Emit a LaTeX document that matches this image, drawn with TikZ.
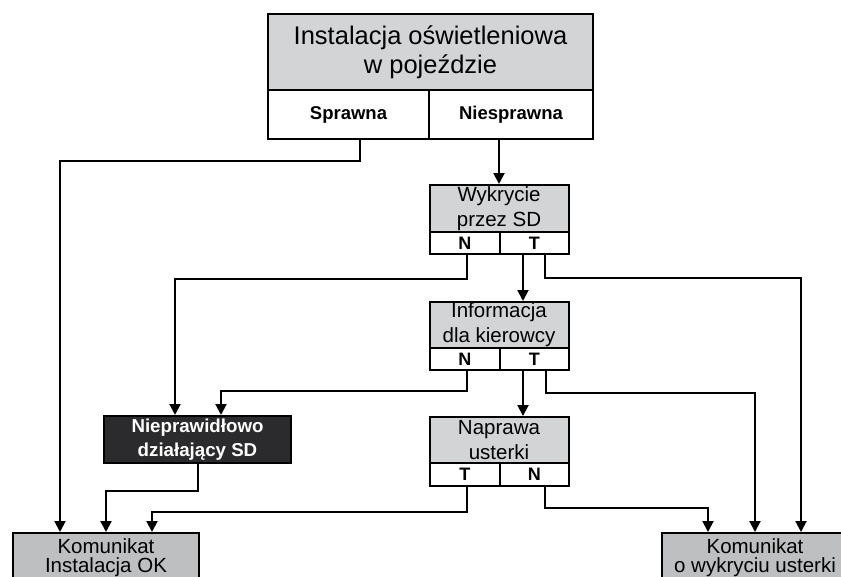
\documentclass[tikz,border=0pt]{standalone}
\usepackage{fontspec}
\setmainfont{Liberation Sans}
\usetikzlibrary{arrows.meta,calc}
\definecolor{boxgray}{HTML}{D3D4D6}
\definecolor{msggray}{HTML}{BEBFC1}
\definecolor{darkbox}{HTML}{2B2B2E}
\begin{document}
\begin{tikzpicture}[x=1pt,y=-1pt,
  base/.style={draw=black, line width=2pt, inner sep=0pt, align=center},
  gbox/.style={base, fill=boxgray, font=\fontsize{20.5}{25}\selectfont},
  cell/.style={base, fill=white, minimum height=22pt, font=\bfseries\fontsize{18}{19}\selectfont},
  msg/.style={base, fill=msggray, minimum width=186pt, minimum height=50pt, anchor=north, font=\fontsize{20.5}{19}\selectfont},
  arr/.style={draw=black, line width=2pt, -{Triangle[length=11pt,width=11pt]}},
  link/.style={draw=black, line width=2pt}]
\useasboundingbox (0,0) rectangle (841,576);
\clip (0,0) rectangle (841,576);
% top box
\node[gbox, minimum width=325pt, minimum height=76pt, font=\fontsize{25.5}{29}\selectfont] (top) at (430.5,52) {Instalacja oświetleniowa\\w pojeździe};
\node[base, fill=white, minimum width=161pt, minimum height=49pt, font=\bfseries\fontsize{18.5}{20}\selectfont] (spr) at (348.5,114.5) {Sprawna};
\node[base, fill=white, minimum width=164pt, minimum height=49pt, font=\bfseries\fontsize{18.5}{20}\selectfont] (nsp) at (511,114.5) {Niesprawna};
% Wykrycie
\node[gbox, minimum width=139pt, minimum height=47pt] (wyk) at (499,208.5) {Wykrycie\\przez SD};
\node[cell, minimum width=70.5pt] (wykN) at (464.75,243) {N};
\node[cell, minimum width=68.5pt] (wykT) at (534.25,243) {T};
% Informacja
\node[gbox, minimum width=139pt, minimum height=46pt] (inf) at (499,325) {Informacja\\dla kierowcy};
\node[cell, minimum width=70.5pt] (infN) at (464.75,359) {N};
\node[cell, minimum width=68.5pt] (infT) at (534.25,359) {T};
% Naprawa
\node[gbox, minimum width=139pt, minimum height=46pt] (nap) at (499,440) {Naprawa\\usterki};
\node[cell, minimum width=70.5pt, minimum height=23pt] (napT) at (464.75,474.5) {T};
\node[cell, minimum width=68.5pt, minimum height=23pt] (napN) at (534.25,474.5) {N};
% faulty SD
\node[base, fill=darkbox, text=white, minimum width=187pt, minimum height=47pt, font=\bfseries\fontsize{18.7}{24}\selectfont] (bad) at (197.5,439.5) {Nieprawidłowo\\działający SD};
% messages
\node[msg] (ok) at (106,532) {Komunikat\\Instalacja OK};
\node[msg] (err) at (755,532) {Komunikat\\o wykryciu usterki};
% connectors
\draw[arr] ($(spr.south)+(11.5,0)$) -- ++(0,21) -| ($(ok.north)+(-46,0)$);
\draw[arr] ($(nsp.south)+(-12,0)$) -- (wyk.north);
\draw[arr] ($(wykN.south)+(2.25,0)$) -- ++(0,24) -| ($(bad.north)+(-22.5,0)$);
\draw[arr] ($(wykT.south)+(-11.25,0)$) -- ($(inf.north)+(24,0)$);
\draw[arr] ($(wykT.south)+(10.75,0)$) -- ++(0,23) -| ($(err.north)+(46,0)$);
\draw[arr] ($(infN.south)+(2.25,0)$) -- ++(0,20) -| ($(bad.north)+(23.5,0)$);
\draw[arr] ($(infT.south)+(-11.25,0)$) -- ($(nap.north)+(24,0)$);
\draw[arr] ($(infT.south)+(11.75,0)$) -- ++(0,22) -| (err.north);
\draw[arr] ($(napT.south)+(2.25,0)$) -- ++(0,25) -| ($(ok.north)+(46,0)$);
\draw[arr] ($(napN.south)+(10.75,0)$) -- ++(0,21) -| ($(err.north)+(-47,0)$);
\draw[arr] ($(bad.south)+(0.5,0)$) -- ++(0,27) -| (ok.north);
\end{tikzpicture}
\end{document}
